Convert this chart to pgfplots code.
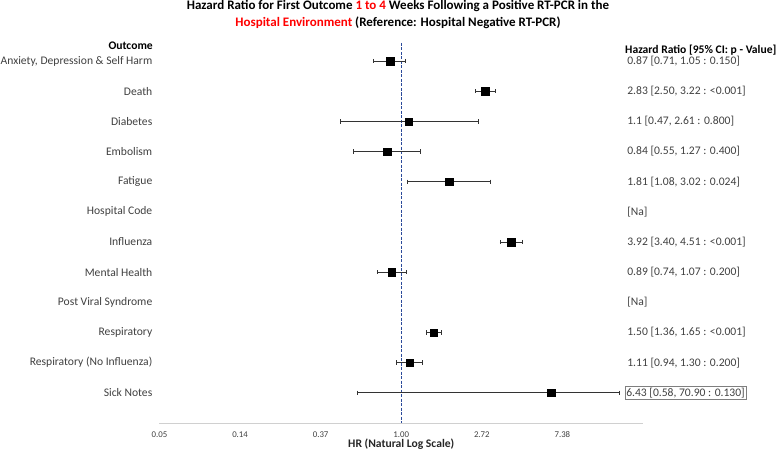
\documentclass[border=0pt]{standalone}
\usepackage{pgfplots}
\pgfplotsset{compat=1.18}
\usepackage{fontspec}
\setmainfont{Carlito}
\definecolor{navy}{HTML}{2B4A9A}
\definecolor{txt}{HTML}{404040}
\definecolor{axgray}{HTML}{D0D0D0}
\definecolor{boxgray}{HTML}{7F7F7F}
\tikzset{
  lab/.style={anchor=east, inner sep=0pt, text=txt, font=\fontsize{11.6}{13}\selectfont},
  hr/.style={anchor=west, inner sep=0pt, text=txt, font=\fontsize{11.6}{13}\selectfont},
}
\pgfplotsset{ci/.style={black!80, line width=0.8pt, mark=|, mark size=2.2pt, mark options={solid, line width=0.7pt}}}
\begin{document}
\begin{tikzpicture}
\path[use as bounding box] (0,0) rectangle (777pt,449pt);
% title
\node[font=\bfseries\fontsize{13}{15}\selectfont, anchor=base, inner sep=0pt] at (398pt,439pt)
  {Hazard Ratio for First Outcome \textcolor{red}{1 to 4} Weeks Following a Positive RT-PCR in the};
\node[font=\bfseries\fontsize{13}{15}\selectfont, anchor=base, inner sep=0pt] at (398pt,422.5pt)
  {\textcolor{red}{Hospital Environment} (Reference: Hospital Negative RT-PCR)};
\node[font=\bfseries\fontsize{11.6}{13}\selectfont, anchor=east, inner sep=0pt] at (153pt,403pt) {Outcome};
\node[font=\bfseries\fontsize{11.6}{13}\selectfont, anchor=base west, inner sep=0pt] at (625pt,395pt) {Hazard Ratio [95\% CI: p - Value]};
\begin{axis}[
  at={(159.5pt,26pt)}, anchor=south west,
  scale only axis, width=483.5pt, height=380pt,
  xmode=log, xmin=0.049787, xmax=20.0855,
  ymin=0.4, ymax=13, y dir=reverse,
  axis x line=bottom, axis y line=none,
  axis line style={axgray, -, line width=0.8pt},
  xtick={0.049787,0.135335,0.367879,1,2.718282,7.389056},
  xticklabels={0.05,0.14,0.37,1.00,2.72,7.38},
  xtick style={draw=none},
  xticklabel style={font=\fontsize{8.8}{10}\selectfont, text=txt, anchor=base, inner sep=0pt, yshift=-12.5pt},
  ytick=\empty,
  clip=false,
  /pgf/number format/assume math mode=true,
]
% reference line
\addplot[navy, dash pattern=on 3pt off 1.5pt, line width=1pt] coordinates {(1,0.4) (1,13)};
% confidence intervals
\addplot[ci] coordinates {(0.71,1) (1.05,1)};
\addplot[ci] coordinates {(2.50,2) (3.22,2)};
\addplot[ci] coordinates {(0.47,3) (2.61,3)};
\addplot[ci] coordinates {(0.55,4) (1.27,4)};
\addplot[ci] coordinates {(1.08,5) (3.02,5)};
\addplot[ci] coordinates {(3.40,7) (4.51,7)};
\addplot[ci] coordinates {(0.74,8) (1.07,8)};
\addplot[ci] coordinates {(1.36,10) (1.65,10)};
\addplot[ci] coordinates {(0.94,11) (1.30,11)};
\addplot[ci] coordinates {(0.58,12) (15.0,12)};
% point estimates
\addplot[only marks, mark=square*, mark size=3.7pt, black] coordinates {
  (0.87,1) (2.83,2) (1.1,3) (0.84,4) (1.81,5) (3.92,7) (0.89,8) (1.50,10) (1.11,11) (6.43,12)};
% outcome labels
\node[lab] at (axis cs:0.04564,1) {Anxiety, Depression \& Self Harm};
\node[lab] at (axis cs:0.04564,2) {Death};
\node[lab] at (axis cs:0.04564,3) {Diabetes};
\node[lab] at (axis cs:0.04564,4) {Embolism};
\node[lab] at (axis cs:0.04564,5) {Fatigue};
\node[lab] at (axis cs:0.04564,6) {Hospital Code};
\node[lab] at (axis cs:0.04564,7) {Influenza};
\node[lab] at (axis cs:0.04564,8) {Mental Health};
\node[lab] at (axis cs:0.04564,9) {Post Viral Syndrome};
\node[lab] at (axis cs:0.04564,10) {Respiratory};
\node[lab] at (axis cs:0.04564,11) {Respiratory (No Influenza)};
\node[lab] at (axis cs:0.04564,12) {Sick Notes};
% HR text
\node[hr] at (axis cs:16.5,1) {0.87 [0.71, 1.05 : 0.150]};
\node[hr] at (axis cs:16.5,2) {2.83 [2.50, 3.22 : <0.001]};
\node[hr] at (axis cs:16.5,3) {1.1 [0.47, 2.61 : 0.800]};
\node[hr] at (axis cs:16.5,4) {0.84 [0.55, 1.27 : 0.400]};
\node[hr] at (axis cs:16.5,5) {1.81 [1.08, 3.02 : 0.024]};
\node[hr] at (axis cs:16.5,6) {[Na]};
\node[hr] at (axis cs:16.5,7) {3.92 [3.40, 4.51 : <0.001]};
\node[hr] at (axis cs:16.5,8) {0.89 [0.74, 1.07 : 0.200]};
\node[hr] at (axis cs:16.5,9) {[Na]};
\node[hr] at (axis cs:16.5,10) {1.50 [1.36, 1.65 : <0.001]};
\node[hr] at (axis cs:16.5,11) {1.11 [0.94, 1.30 : 0.200]};
\node[hr, draw=boxgray, line width=0.6pt, inner sep=1.3pt] at (axis cs:16.0,12) {6.43 [0.58, 70.90 : 0.130]};
% x label
\node[font=\bfseries\fontsize{11.6}{13}\selectfont, text=black!85, anchor=base, inner sep=0pt] at (axis cs:1,13) [yshift=-24pt] {HR (Natural Log Scale)};
\end{axis}
\end{tikzpicture}
\end{document}
